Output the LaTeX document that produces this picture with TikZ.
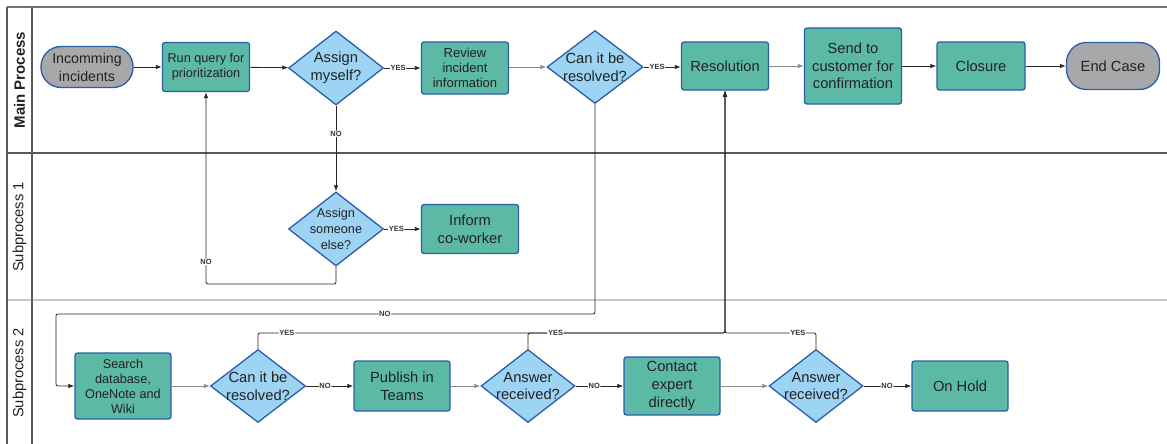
\documentclass[tikz,border=0pt]{standalone}
\usepackage{fontspec}
\setmainfont{Liberation Sans}
\usetikzlibrary{shapes.geometric,arrows.meta}

\definecolor{procfill}{HTML}{5CB9A6}
\definecolor{shapeedge}{HTML}{2A5EA8}
\definecolor{decfill}{HTML}{9DD3F3}
\definecolor{termfill}{HTML}{A8A8AB}
\definecolor{inkdark}{HTML}{222222}

\tikzset{
  shapebase/.style={draw=shapeedge, line width=1.3pt, align=center, inner sep=1pt, text=inkdark},
  proc/.style={shapebase, rectangle, rounded corners=2.5pt, fill=procfill},
  term/.style={shapebase, rectangle, rounded corners=20pt, fill=termfill},
  decision/.style={shapebase, diamond, fill=decfill, inner sep=0pt},
  dtext/.style={align=center, text=inkdark, inner sep=0pt},
  conn/.style={draw=black!85, line width=0.8pt, rounded corners=2pt,
    -{Latex[length=6pt,width=4.5pt]}},
  softconn/.style={conn, draw=black!45},
  lbl/.style={font=\fontsize{7.5}{8}\selectfont\bfseries, fill=white, inner sep=0.6pt, text=black!80},
  lanerule/.style={line width=1.2pt},
  lanetitle/.style={rotate=90, text=inkdark},
  big/.style={font=\fontsize{14.7}{18}\selectfont},
  small/.style={font=\fontsize{12.7}{15}\selectfont},
}

\begin{document}
\begin{tikzpicture}[x=1pt,y=-1pt]
\useasboundingbox (0,0) rectangle (1167,444);

% swimlane frame
\draw[lanerule, draw=black!55] (7,7) -- (1167,7);
\draw[lanerule, draw=black!65] (7,153) -- (1167,153);
\draw[lanerule, draw=black!22] (7,300) -- (1167,300);
\draw[lanerule, draw=black!65] (7,7) -- (7,444);
\draw[lanerule, draw=black!65] (32,7) -- (32,444);

\node[lanetitle, font=\fontsize{15}{18}\selectfont\bfseries] (laneMain) at (19.5,80) {Main Process};
\node[lanetitle, font=\fontsize{14.7}{18}\selectfont] (laneSubA) at (19.5,227) {Subprocess 1};
\node[lanetitle, font=\fontsize{14.7}{18}\selectfont] (laneSubB) at (19.5,373) {Subprocess 2};

% main process row
\node[term, font=\fontsize{14.2}{18}\selectfont, minimum width=92pt, minimum height=41pt] (inc) at (87,67) {Incomming\\incidents};
\node[proc, font=\fontsize{12.7}{15}\selectfont, minimum width=87pt, minimum height=49pt] (query) at (206,67) {Run query for\\prioritization};
\node[decision, minimum width=95pt, minimum height=74pt,
  label={[dtext, big]center:{Assign\\myself?}}] (self) at (336,68) {};
\node[proc, font=\fontsize{13}{15}\selectfont, minimum width=87pt, minimum height=52pt] (review) at (465,68) {Review\\incident\\information};
\node[decision, minimum width=96pt, minimum height=73pt,
  label={[dtext, big]center:{Can it be\\resolved?}}] (canA) at (595,67) {};
\node[proc, big, minimum width=87pt, minimum height=48pt] (resol) at (725,66) {Resolution};
\node[proc, font=\fontsize{14.7}{17.5}\selectfont, minimum width=97pt, minimum height=76pt] (send) at (853,66) {Send to\\customer for\\confirmation};
\node[proc, big, minimum width=88pt, minimum height=48pt] (closure) at (981,66) {Closure};
\node[term, big, minimum width=93pt, minimum height=47pt] (endc) at (1113,66) {End Case};

% subprocess 1 row
\node[decision, minimum width=95pt, minimum height=74pt,
  label={[dtext, font=\fontsize{12.7}{16}\selectfont]center:{Assign\\someone\\else?}}] (other) at (336,229) {};
\node[proc, big, minimum width=97pt, minimum height=49pt] (inform) at (470,229) {Inform\\co-worker};

% subprocess 2 row
\node[proc, small, minimum width=96pt, minimum height=66pt] (search) at (123,386) {Search\\database,\\OneNote and\\Wiki};
\node[decision, minimum width=95pt, minimum height=73pt,
  label={[dtext, font=\fontsize{14.7}{17.5}\selectfont]center:{Can it be\\resolved?}}] (canB) at (258,386) {};
\node[proc, big, minimum width=96pt, minimum height=50pt] (publish) at (402,386) {Publish in\\Teams};
\node[decision, minimum width=94pt, minimum height=73pt,
  label={[dtext, font=\fontsize{14.7}{17.5}\selectfont]center:{Answer\\received?}}] (ansA) at (528,386) {};
\node[proc, big, minimum width=96pt, minimum height=58pt] (contact) at (672,386) {Contact\\expert\\directly};
\node[decision, minimum width=94pt, minimum height=73pt,
  label={[dtext, font=\fontsize{14.7}{17.5}\selectfont]center:{Answer\\received?}}] (ansB) at (816,386) {};
\node[proc, big, minimum width=96pt, minimum height=50pt] (hold) at (960,386) {On Hold};

% bend points of the routed connectors
\coordinate (otherLow) at (336,284);
\coordinate (queryLow) at (206,284);
\coordinate (canADown) at (595,314);
\coordinate (backLeft) at (56,314);
\coordinate (backIn) at (56,386);
\coordinate (canBUp) at (258,333);
\coordinate (ansAUp) at (528,333);
\coordinate (ansBUp) at (816,333);
\coordinate (resolLow) at (725,333);

% main process flow
\draw[conn] (inc) -- (query);
\draw[conn] (query) -- (self);
\draw[conn] (self.east) -- node[lbl, pos=0.38] (yesSelf) {YES} (review.west |- self.east);
\draw[softconn] (review.east |- canA.west) -- (canA.west);
\draw[conn] (canA.east) -- node[lbl, pos=0.36] (yesCanA) {YES} (resol.west |- canA.east);
\draw[softconn] (resol) -- (send);
\draw[conn] (send) -- (closure);
\draw[conn] (closure) -- (endc);

% subprocess 1 flow
\draw[conn] (self.south) -- node[lbl, pos=0.33] (noSelf) {NO} (other.north);
\draw[conn] (other.east) -- node[lbl, pos=0.33] (yesOther) {YES} (inform.west |- other.east);
\draw[conn] (other.south) -- (otherLow) -- (queryLow) -- node[lbl, pos=0.115] (noOther) {NO} (query.south);

% subprocess 2 flow
\draw[conn] (canA.south) -- (canADown) -- node[lbl, pos=0.39] (noCanA) {NO} (backLeft) -- (backIn) -- (search.west);
\draw[softconn] (search.east |- canB.west) -- (canB.west);
\draw[conn] (canB.east) -- node[lbl, pos=0.4] (noCanB) {NO} (publish.west |- canB.east);
\draw[softconn] (publish.east |- ansA.west) -- (ansA.west);
\draw[conn] (ansA.east) -- node[lbl, pos=0.39] (noAnsA) {NO} (contact.west |- ansA.east);
\draw[softconn] (contact.east |- ansB.west) -- (ansB.west);
\draw[conn] (ansB.east) -- node[lbl, pos=0.49] (noAnsB) {NO} (hold.west |- ansB.east);

% answers that lead back to the resolution
\draw[conn] (canB.north) -- (canBUp) -- node[lbl, pos=0.062] (yesCanB) {YES} (resolLow) -- (resol.south);
\draw[conn] (ansA.north) -- (ansAUp) -- node[lbl, pos=0.14] (yesAnsA) {YES} (resolLow) -- (resol.south);
\draw[conn] (ansB.north) -- (ansBUp) -- node[lbl, pos=0.2] (yesAnsB) {YES} (resolLow) -- (resol.south);
\end{tikzpicture}
\end{document}
